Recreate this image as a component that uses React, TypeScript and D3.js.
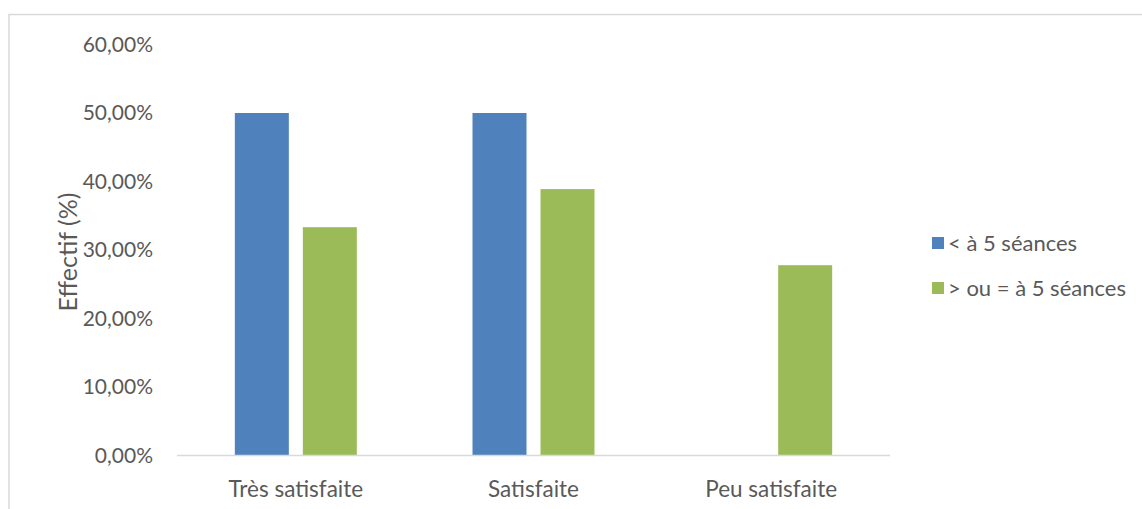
import React from "react";
import * as d3 from "d3";

const categories = ["Très satisfaite", "Satisfaite", "Peu satisfaite"];
const seriesNames = ["< à 5 séances", "> ou = à 5 séances"];
const seriesLess5 = [50.0, 50.0, 0];
const seriesMore5 = [33.33, 38.89, 27.78];
const yTicks = [0, 10, 20, 30, 40, 50, 60];
const colors = ["#4F81BD", "#9BBB59"];

const W = 1142;
const H = 509;
const left = 177;
const right = 890;
const top = 44.5;
const bottom = 455.5;
const FONT = "Lato, 'Open Sans', sans-serif";
const TEXT = "#595959";

export default function App() {
  const x0 = d3.scaleBand<string>().domain(categories).range([left, right]).padding(0);
  const bw = x0.bandwidth();
  const groupW = 122;
  const x1 = d3
    .scaleBand<string>()
    .domain(seriesNames)
    .range([(bw - groupW) / 2, (bw + groupW) / 2])
    .paddingInner(14 / 68)
    .paddingOuter(0);
  const y = d3.scaleLinear().domain([0, 60]).range([bottom, top]);
  const allSeries = [seriesLess5, seriesMore5];
  const fmt = (v: number) => v.toFixed(2).replace(".", ",") + "%";

  return (
    <div style={{ position: "absolute", left: 0, top: 0 }}>
      <svg width={W} height={H} style={{ display: "block" }}>
        <rect x={0} y={0} width={W} height={H} fill="#ffffff" />
        <rect x={9} y={14.5} width={W + 20} height={H + 20} fill="none" stroke="#d9d9d9" strokeWidth={1.5} />
        {yTicks.map((t) => (
          <text
            key={t}
            x={153}
            y={y(t)}
            dy="0.35em"
            textAnchor="end"
            fontFamily={FONT}
            fontSize={21}
            fill={TEXT}
          >
            {fmt(t)}
          </text>
        ))}
        <text
          transform={`translate(68, ${(top + bottom) / 2 + 2}) rotate(-90)`}
          textAnchor="middle"
          dy="0.35em"
          fontFamily={FONT}
          fontSize={25}
          fill={TEXT}
        >
          Effectif (%)
        </text>
        {categories.map((c, ci) =>
          allSeries.map((s, si) =>
            s[ci] > 0 ? (
              <rect
                key={`${ci}-${si}`}
                x={(x0(c) ?? 0) + (x1(seriesNames[si]) ?? 0)}
                y={y(s[ci])}
                width={x1.bandwidth()}
                height={bottom - y(s[ci])}
                fill={colors[si]}
              />
            ) : null
          )
        )}
        <line x1={left} x2={right} y1={bottom} y2={bottom} stroke="#d9d9d9" strokeWidth={1.5} />
        {categories.map((c) => (
          <text
            key={c}
            x={(x0(c) ?? 0) + bw / 2}
            y={497}
            textAnchor="middle"
            fontFamily={FONT}
            fontSize={22.5}
            fill={TEXT}
          >
            {c}
          </text>
        ))}
        {seriesNames.map((n, i) => (
          <g key={n} transform={`translate(932, ${237 + i * 45})`}>
            <rect x={0} y={0} width={12} height={12} fill={colors[i]} />
            <text x={16} y={6} dy="0.35em" fontFamily={FONT} fontSize={22} fill={TEXT}>
              {n}
            </text>
          </g>
        ))}
      </svg>
    </div>
  );
}
